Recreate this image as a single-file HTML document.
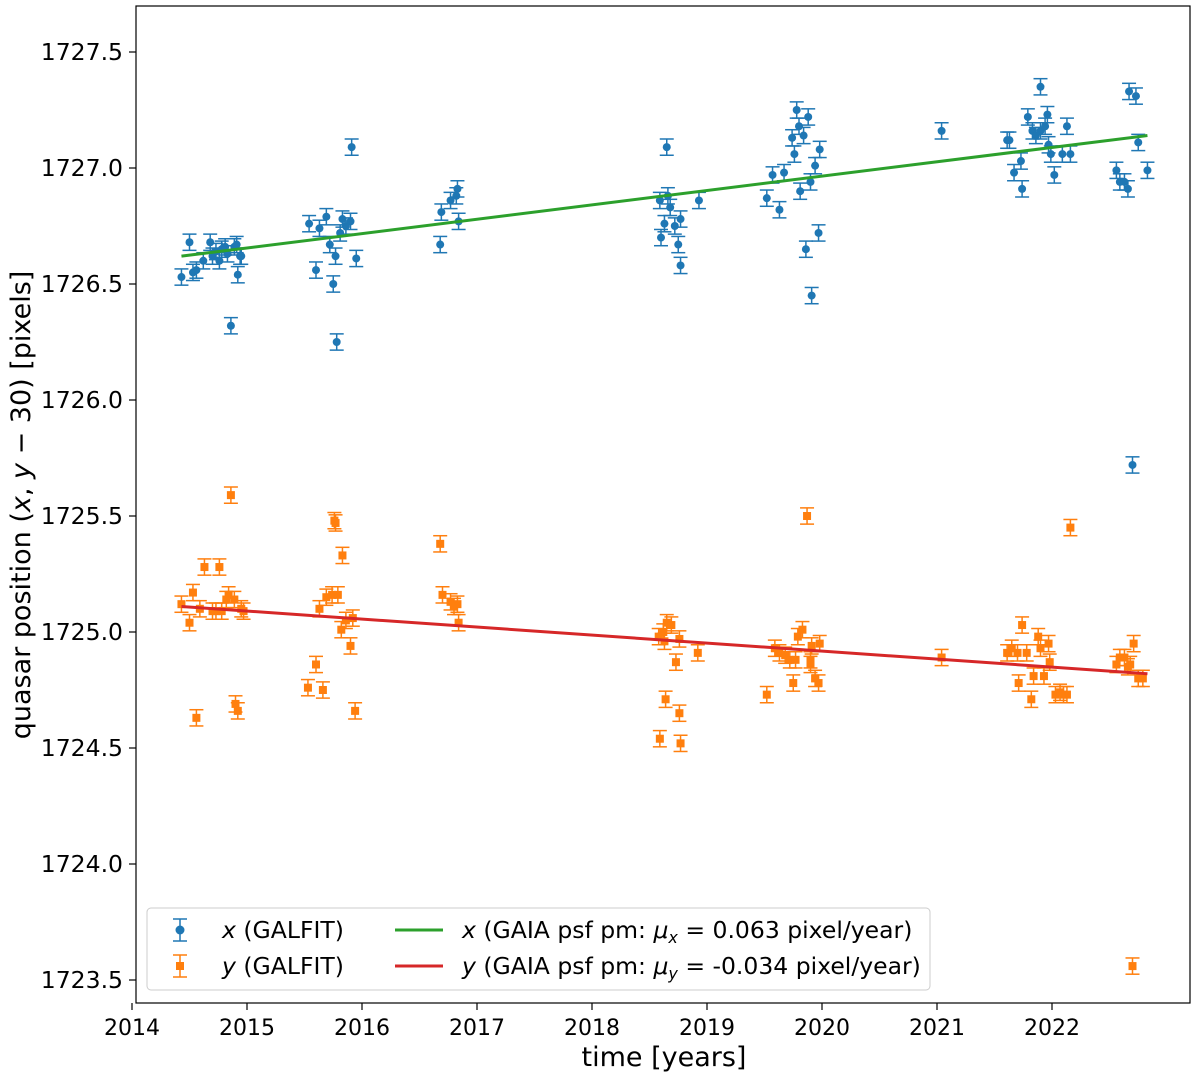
<!DOCTYPE html>
<html><head><meta charset="utf-8"><style>
body{margin:0;background:#fff}
svg text{font-family:"DejaVu Sans","Liberation Sans",sans-serif;fill:#000}
</style></head><body>
<svg id="c" width="1200" height="1077">
<rect x="136" y="6" width="1054" height="997" fill="none" stroke="#000" stroke-width="1.2"/>
<g id="marks"></g>
<g id="axes"></g>
<text x="664" y="1066" font-size="27" text-anchor="middle">time [years]</text>
<text transform="translate(30,505) rotate(-90)" font-size="27" text-anchor="middle">quasar position (<tspan font-style="italic">x</tspan>, <tspan font-style="italic">y</tspan> − 30) [pixels]</text>
<g>
<rect x="147" y="908" width="783" height="82" rx="4" fill="#fff" fill-opacity="0.8" stroke="#ccc"/>
<g>
<line x1="180" y1="919" x2="180" y2="941" stroke="#1f77b4" stroke-width="1.5"/><line x1="173" y1="919" x2="187" y2="919" stroke="#1f77b4" stroke-width="1.5"/><line x1="173" y1="941" x2="187" y2="941" stroke="#1f77b4" stroke-width="1.5"/><circle cx="180" cy="930" r="4.5" fill="#1f77b4"/>
<text x="222" y="938" font-size="23.5"><tspan font-style="italic">x</tspan> (GALFIT)</text></g>
<g>
<line x1="180" y1="955" x2="180" y2="977" stroke="#ff7f0e" stroke-width="1.5"/><line x1="173" y1="955" x2="187" y2="955" stroke="#ff7f0e" stroke-width="1.5"/><line x1="173" y1="977" x2="187" y2="977" stroke="#ff7f0e" stroke-width="1.5"/><rect x="176" y="962" width="8" height="8" fill="#ff7f0e"/>
<text x="222" y="974" font-size="23.5"><tspan font-style="italic">y</tspan> (GALFIT)</text></g>
<g>
<line x1="395" y1="930" x2="443" y2="930" stroke="#2ca02c" stroke-width="3"/>
<text x="462" y="938" font-size="23.5"><tspan font-style="italic">x</tspan> (GAIA psf pm: <tspan font-style="italic">μ</tspan><tspan font-size="16" dy="5" font-style="italic">x</tspan><tspan dy="-5"> = 0.063 pixel/year)</tspan></text></g>
<g>
<line x1="395" y1="966" x2="443" y2="966" stroke="#d62728" stroke-width="3"/>
<text x="462" y="974" font-size="23.5"><tspan font-style="italic">y</tspan> (GAIA psf pm: <tspan font-style="italic">μ</tspan><tspan font-size="16" dy="5" font-style="italic">y</tspan><tspan dy="-5"> = -0.034 pixel/year)</tspan></text></g>
</g>
</svg>
<script>
const xTicks=[2014,2015,2016,2017,2018,2019,2020,2021,2022];
const yTicks=[1723.5,1724.0,1724.5,1725.0,1725.5,1726.0,1726.5,1727.0,1727.5];
const xTimes=[2014.43,2014.50,2014.53,2014.56,2014.62,2014.68,2014.70,2014.73,2014.76,2014.78,2014.81,2014.83,2014.86,2014.89,2014.91,2014.94,2014.92,2014.95,2015.54,2015.60,2015.63,2015.69,2015.72,2015.75,2015.77,2015.78,2015.81,2015.83,2015.86,2015.90,2015.91,2015.95,2016.69,2016.68,2016.77,2016.82,2016.83,2016.84,2018.59,2018.60,2018.63,2018.65,2018.66,2018.68,2018.72,2018.75,2018.77,2018.77,2018.93,2019.52,2019.57,2019.63,2019.67,2019.74,2019.76,2019.78,2019.80,2019.81,2019.84,2019.86,2019.88,2019.90,2019.91,2019.94,2019.97,2019.98,2021.04,2021.61,2021.63,2021.67,2021.74,2021.73,2021.79,2021.83,2021.86,2021.90,2021.90,2021.94,2021.96,2021.97,2021.99,2022.02,2022.09,2022.13,2022.16,2022.56,2022.59,2022.63,2022.66,2022.67,2022.70,2022.73,2022.75,2022.83];
const xValues=[1726.53,1726.68,1726.55,1726.56,1726.60,1726.68,1726.62,1726.64,1726.60,1726.65,1726.66,1726.63,1726.32,1726.66,1726.67,1726.62,1726.54,1726.62,1726.76,1726.56,1726.74,1726.79,1726.67,1726.50,1726.62,1726.25,1726.72,1726.78,1726.75,1726.77,1727.09,1726.61,1726.81,1726.67,1726.86,1726.88,1726.91,1726.77,1726.86,1726.70,1726.76,1727.09,1726.88,1726.83,1726.75,1726.67,1726.78,1726.58,1726.86,1726.87,1726.97,1726.82,1726.98,1727.13,1727.06,1727.25,1727.18,1726.90,1727.14,1726.65,1727.22,1726.94,1726.45,1727.01,1726.72,1727.08,1727.16,1727.12,1727.12,1726.98,1726.91,1727.03,1727.22,1727.16,1727.14,1727.35,1727.16,1727.18,1727.23,1727.10,1727.06,1726.97,1727.06,1727.18,1727.06,1726.99,1726.94,1726.94,1726.91,1727.33,1725.72,1727.31,1727.11,1726.99];
const yTimes=[2014.43,2014.50,2014.53,2014.56,2014.59,2014.63,2014.70,2014.73,2014.76,2014.78,2014.82,2014.84,2014.86,2014.89,2014.90,2014.92,2014.95,2014.97,2015.53,2015.60,2015.63,2015.66,2015.69,2015.74,2015.76,2015.77,2015.79,2015.82,2015.83,2015.86,2015.90,2015.92,2015.94,2016.68,2016.70,2016.77,2016.80,2016.83,2016.84,2018.58,2018.59,2018.62,2018.63,2018.64,2018.65,2018.69,2018.73,2018.76,2018.76,2018.77,2018.92,2019.52,2019.59,2019.63,2019.68,2019.72,2019.75,2019.77,2019.79,2019.83,2019.87,2019.90,2019.90,2019.91,2019.94,2019.97,2019.98,2021.04,2021.61,2021.65,2021.70,2021.71,2021.74,2021.78,2021.82,2021.84,2021.88,2021.90,2021.93,2021.97,2021.98,2022.03,2022.07,2022.10,2022.13,2022.16,2022.56,2022.59,2022.63,2022.66,2022.68,2022.70,2022.71,2022.75,2022.79];
const yValues=[1725.12,1725.04,1725.17,1724.63,1725.10,1725.28,1725.09,1725.09,1725.28,1725.09,1725.14,1725.16,1725.59,1725.14,1724.69,1724.66,1725.10,1725.09,1724.76,1724.86,1725.10,1724.75,1725.15,1725.16,1725.48,1725.47,1725.16,1725.01,1725.33,1725.05,1724.94,1725.06,1724.66,1725.38,1725.16,1725.13,1725.11,1725.12,1725.04,1724.98,1724.54,1725.00,1724.96,1724.71,1725.04,1725.03,1724.87,1724.97,1724.65,1724.52,1724.91,1724.73,1724.93,1724.91,1724.90,1724.88,1724.78,1724.88,1724.98,1725.01,1725.50,1724.88,1724.86,1724.94,1724.80,1724.78,1724.95,1724.89,1724.91,1724.93,1724.91,1724.78,1725.03,1724.91,1724.71,1724.81,1724.98,1724.93,1724.81,1724.95,1724.87,1724.73,1724.74,1724.73,1724.73,1725.45,1724.86,1724.89,1724.89,1724.85,1724.86,1723.56,1724.95,1724.80,1724.80];
const errSize=[0.035];
const fitRange=[2014.43,2022.83];
const fitX=[1726.62,1727.14];
const fitY=[1725.11,1724.82];

const NS='http://www.w3.org/2000/svg';
const X=t=>132+(t-2014)*115;
const Y=v=>168-(v-1727)*232;
function mk(tag,attrs,parent){const e=document.createElementNS(NS,tag);for(const k in attrs)e.setAttribute(k,attrs[k]);parent.appendChild(e);return e;}
const axes=document.getElementById('axes'),marks=document.getElementById('marks');
xTicks.forEach(t=>{
  const g=mk('g',{},axes);
  
  
  mk('line',{x1:X(t),x2:X(t),y1:1003,y2:1010,stroke:'#000','stroke-width':1.2},g);
  const tx=mk('text',{x:X(t),y:1035,'font-size':22,'text-anchor':'middle'},g);tx.textContent=t;
});
yTicks.forEach(v=>{
  const g=mk('g',{},axes);
  
  
  mk('line',{x1:129,x2:136,y1:Y(v),y2:Y(v),stroke:'#000','stroke-width':1.2},g);
  const tx=mk('text',{x:123,y:Y(v)+8,'font-size':23.5,'text-anchor':'end'},g);tx.textContent=v.toFixed(1);
});
function series(times,vals,color,shape,name){
  const g=mk('g',{},marks);
  
  
  times.forEach((t,i)=>{
    const cx=X(t),cy=Y(vals[i]),e=errSize[0]*232;
    const p=mk('g',{},g);
    
    
    mk('line',{x1:cx,x2:cx,y1:cy-e,y2:cy+e,stroke:color,'stroke-width':1.5},p);
    mk('line',{x1:cx-7,x2:cx+7,y1:cy-e,y2:cy-e,stroke:color,'stroke-width':1.5},p);
    mk('line',{x1:cx-7,x2:cx+7,y1:cy+e,y2:cy+e,stroke:color,'stroke-width':1.5},p);
    if(shape==='c')mk('circle',{cx:cx,cy:cy,r:4,fill:color},p);
    else mk('rect',{x:cx-4,y:cy-4,width:8,height:8,fill:color},p);
  });
}
series(xTimes,xValues,'#1f77b4','c','x-galfit-series');
series(yTimes,yValues,'#ff7f0e','s','y-galfit-series');
function fit(vals,color,name){
  const l=mk('line',{x1:X(fitRange[0]),x2:X(fitRange[1]),y1:Y(vals[0]),y2:Y(vals[1]),stroke:color,'stroke-width':3},marks);
  
  
}
fit(fitX,'#2ca02c','x-gaia-fit-line');
fit(fitY,'#d62728','y-gaia-fit-line');
</script>
</body></html>
